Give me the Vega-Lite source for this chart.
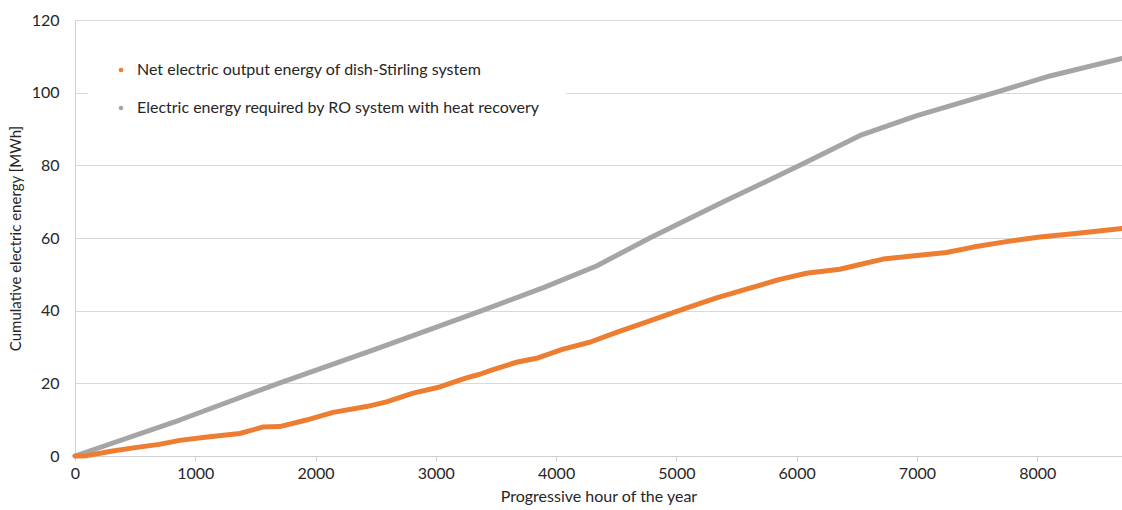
{
  "$schema": "https://vega.github.io/schema/vega-lite/v6.json",
  "width": 1047,
  "height": 436,
  "autosize": {"type": "none"},
  "padding": {"left": 75, "top": 20, "right": 0, "bottom": 54},
  "background": "white",
  "config": {
    "font": "Lato",
    "view": {"stroke": null},
    "axis": {"labelFont": "Lato", "titleFont": "Lato", "labelFontSize": 16, "titleFontSize": 16, "labelColor": "#262626", "titleColor": "#262626", "titleFontWeight": "normal", "gridColor": "#D9D9D9", "domainColor": "#D0D0D0", "tickColor": "#D0D0D0"}
  },
  "data": {
    "values": [
      {"h": 0, "v": 0, "s": "Electric energy required by RO system with heat recovery"},
      {"h": 871, "v": 9.9, "s": "Electric energy required by RO system with heat recovery"},
      {"h": 1675, "v": 19.8, "s": "Electric energy required by RO system with heat recovery"},
      {"h": 2500, "v": 29.4, "s": "Electric energy required by RO system with heat recovery"},
      {"h": 3366, "v": 39.8, "s": "Electric energy required by RO system with heat recovery"},
      {"h": 3900, "v": 46.4, "s": "Electric energy required by RO system with heat recovery"},
      {"h": 4336, "v": 52.3, "s": "Electric energy required by RO system with heat recovery"},
      {"h": 4779, "v": 60, "s": "Electric energy required by RO system with heat recovery"},
      {"h": 5400, "v": 70.1, "s": "Electric energy required by RO system with heat recovery"},
      {"h": 6027, "v": 80, "s": "Electric energy required by RO system with heat recovery"},
      {"h": 6540, "v": 88.4, "s": "Electric energy required by RO system with heat recovery"},
      {"h": 7000, "v": 93.7, "s": "Electric energy required by RO system with heat recovery"},
      {"h": 7648, "v": 100, "s": "Electric energy required by RO system with heat recovery"},
      {"h": 8106, "v": 104.6, "s": "Electric energy required by RO system with heat recovery"},
      {"h": 8705, "v": 109.4, "s": "Electric energy required by RO system with heat recovery"},
      {"h": 0, "v": 0, "s": "Net electric output energy of dish-Stirling system"},
      {"h": 100, "v": 0.1, "s": "Net electric output energy of dish-Stirling system"},
      {"h": 300, "v": 1.3, "s": "Net electric output energy of dish-Stirling system"},
      {"h": 500, "v": 2.3, "s": "Net electric output energy of dish-Stirling system"},
      {"h": 700, "v": 3.2, "s": "Net electric output energy of dish-Stirling system"},
      {"h": 871, "v": 4.3, "s": "Net electric output energy of dish-Stirling system"},
      {"h": 1100, "v": 5.2, "s": "Net electric output energy of dish-Stirling system"},
      {"h": 1370, "v": 6.2, "s": "Net electric output energy of dish-Stirling system"},
      {"h": 1566, "v": 8.0, "s": "Net electric output energy of dish-Stirling system"},
      {"h": 1702, "v": 8.1, "s": "Net electric output energy of dish-Stirling system"},
      {"h": 1924, "v": 9.9, "s": "Net electric output energy of dish-Stirling system"},
      {"h": 2146, "v": 12.0, "s": "Net electric output energy of dish-Stirling system"},
      {"h": 2423, "v": 13.6, "s": "Net electric output energy of dish-Stirling system"},
      {"h": 2590, "v": 14.9, "s": "Net electric output energy of dish-Stirling system"},
      {"h": 2811, "v": 17.3, "s": "Net electric output energy of dish-Stirling system"},
      {"h": 3033, "v": 19.0, "s": "Net electric output energy of dish-Stirling system"},
      {"h": 3255, "v": 21.5, "s": "Net electric output energy of dish-Stirling system"},
      {"h": 3366, "v": 22.5, "s": "Net electric output energy of dish-Stirling system"},
      {"h": 3476, "v": 23.8, "s": "Net electric output energy of dish-Stirling system"},
      {"h": 3671, "v": 25.8, "s": "Net electric output energy of dish-Stirling system"},
      {"h": 3837, "v": 26.9, "s": "Net electric output energy of dish-Stirling system"},
      {"h": 4058, "v": 29.4, "s": "Net electric output energy of dish-Stirling system"},
      {"h": 4280, "v": 31.3, "s": "Net electric output energy of dish-Stirling system"},
      {"h": 4502, "v": 34.0, "s": "Net electric output energy of dish-Stirling system"},
      {"h": 4779, "v": 37.2, "s": "Net electric output energy of dish-Stirling system"},
      {"h": 5057, "v": 40.4, "s": "Net electric output energy of dish-Stirling system"},
      {"h": 5334, "v": 43.5, "s": "Net electric output energy of dish-Stirling system"},
      {"h": 5611, "v": 46.2, "s": "Net electric output energy of dish-Stirling system"},
      {"h": 5860, "v": 48.6, "s": "Net electric output energy of dish-Stirling system"},
      {"h": 6082, "v": 50.3, "s": "Net electric output energy of dish-Stirling system"},
      {"h": 6359, "v": 51.4, "s": "Net electric output energy of dish-Stirling system"},
      {"h": 6500, "v": 52.5, "s": "Net electric output energy of dish-Stirling system"},
      {"h": 6719, "v": 54.2, "s": "Net electric output energy of dish-Stirling system"},
      {"h": 7000, "v": 55.2, "s": "Net electric output energy of dish-Stirling system"},
      {"h": 7246, "v": 56.0, "s": "Net electric output energy of dish-Stirling system"},
      {"h": 7468, "v": 57.5, "s": "Net electric output energy of dish-Stirling system"},
      {"h": 7745, "v": 59.0, "s": "Net electric output energy of dish-Stirling system"},
      {"h": 8022, "v": 60.3, "s": "Net electric output energy of dish-Stirling system"},
      {"h": 8299, "v": 61.2, "s": "Net electric output energy of dish-Stirling system"},
      {"h": 8705, "v": 62.6, "s": "Net electric output energy of dish-Stirling system"}
    ]
  },
  "mark": {"type": "line", "strokeWidth": 5, "strokeCap": "round", "strokeJoin": "round", "clip": false},
  "encoding": {
    "x": {
      "field": "h", "type": "quantitative",
      "scale": {"domain": [0, 8705], "nice": false, "zero": true},
      "axis": {"values": [0, 1000, 2000, 3000, 4000, 5000, 6000, 7000, 8000], "grid": false, "tickSize": 5, "labelPadding": 4, "title": "Progressive hour of the year", "titlePadding": 7, "format": "d", "labelFlush": false}
    },
    "y": {
      "field": "v", "type": "quantitative",
      "scale": {"domain": [0, 120], "nice": false},
      "axis": {"values": [0, 20, 40, 60, 80, 100, 120], "grid": true, "ticks": false, "labelPadding": 16, "title": "Cumulative electric energy [MWh]", "titleFontSize": 15, "titlePadding": 8, "domain": true}
    },
    "color": {
      "field": "s", "type": "nominal",
      "scale": {
        "domain": ["Net electric output energy of dish-Stirling system", "Electric energy required by RO system with heat recovery"],
        "range": ["#ED7D31", "#A5A5A5"]
      },
      "legend": {
        "orient": "none", "legendX": 13, "legendY": 17, "title": null,
        "symbolType": "circle", "symbolSize": 22, "symbolStrokeWidth": 0,
        "labelFont": "Lato", "labelFontSize": 16, "labelColor": "#262626", "labelLimit": 600,
        "rowPadding": 22, "padding": 25, "fillColor": "white", "strokeColor": null, "labelOffset": 8,
        "encode": {"symbols": {"update": {"fill": {"scale": "color", "field": "value"}, "fillOpacity": {"value": 1}}}}
      }
    },
    "order": {"field": "h", "type": "quantitative"}
  }
}
